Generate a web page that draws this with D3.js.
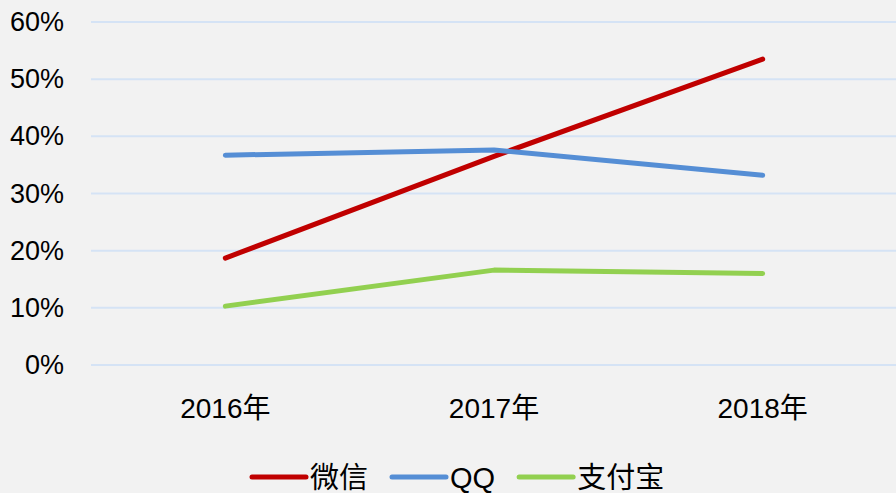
<!DOCTYPE html>
<html>
<head>
<meta charset="utf-8">
<script src="https://cdn.jsdelivr.net/npm/d3@7"></script>
<style>
  html, body { margin: 0; padding: 0; background: #f2f2f2; }
  svg { display: block; }
  text { font-family: "Liberation Sans", "Noto Sans CJK SC", sans-serif; fill: #000; }
</style>
</head>
<body>
<div id="chart"></div>
<script>
var categories = ["2016年", "2017年", "2018年"];
var weixin = [0.187, 0.365, 0.535];
var qq = [0.367, 0.376, 0.332];
var zhifubao = [0.103, 0.166, 0.160];
var yTicks = [0, 0.1, 0.2, 0.3, 0.4, 0.5, 0.6];

var seriesList = [
  { name: "微信", values: weixin, color: "#c00000" },
  { name: "QQ", values: qq, color: "#558ed5" },
  { name: "支付宝", values: zhifubao, color: "#92d050" }
];

var W = 896, H = 493;
var svg = d3.select("#chart").append("svg").attr("width", W).attr("height", H);
svg.append("rect").attr("width", W).attr("height", H).attr("fill", "#f2f2f2");

var x = d3.scaleBand().domain(categories).range([91, 897]);
var y = d3.scaleLinear().domain([0, 0.6]).range([365, 22]);

// gridlines
svg.append("g").selectAll("line").data(yTicks).enter().append("line")
  .attr("x1", 91).attr("x2", W)
  .attr("y1", function(d) { return y(d); })
  .attr("y2", function(d) { return y(d); })
  .attr("stroke", "#d5e3f5").attr("stroke-width", 2);

// y labels
var yAxis = d3.axisLeft(y).tickValues(yTicks).tickFormat(d3.format(".0%")).tickSize(0).tickPadding(0);
var gy = svg.append("g").attr("transform", "translate(64,0)").call(yAxis);
gy.select(".domain").remove();
gy.selectAll("text").attr("font-size", 27).attr("fill", "#000")
  .style("font-family", "'Liberation Sans', sans-serif");

// x labels
var xAxis = d3.axisBottom(x).tickSize(0).tickPadding(0);
var gx = svg.append("g").attr("transform", "translate(0,398)").call(xAxis);
gx.select(".domain").remove();
gx.selectAll("text").attr("font-size", 28).attr("dy", "0.71em").attr("fill", "#000")
  .style("font-family", "'Liberation Sans', 'Noto Sans CJK SC', sans-serif");

// lines
var line = d3.line()
  .x(function(d, i) { return x(categories[i]) + x.bandwidth() / 2; })
  .y(function(d) { return y(d); });

svg.append("g").selectAll("path").data(seriesList).enter().append("path")
  .attr("d", function(s) { return line(s.values); })
  .attr("fill", "none")
  .attr("stroke", function(s) { return s.color; })
  .attr("stroke-width", 5)
  .attr("stroke-linecap", "round")
  .attr("stroke-linejoin", "round");

// legend
var lx = 252, ly = 477;
seriesList.forEach(function(s) {
  svg.append("line")
    .attr("x1", lx).attr("x2", lx + 54)
    .attr("y1", ly).attr("y2", ly)
    .attr("stroke", s.color).attr("stroke-width", 5).attr("stroke-linecap", "round");
  var t = svg.append("text")
    .attr("x", lx + 58).attr("y", ly + 11)
    .attr("font-size", 29)
    .text(s.name);
  lx = lx + 58 + t.node().getComputedTextLength() + 24;
});
</script>
</body>
</html>
